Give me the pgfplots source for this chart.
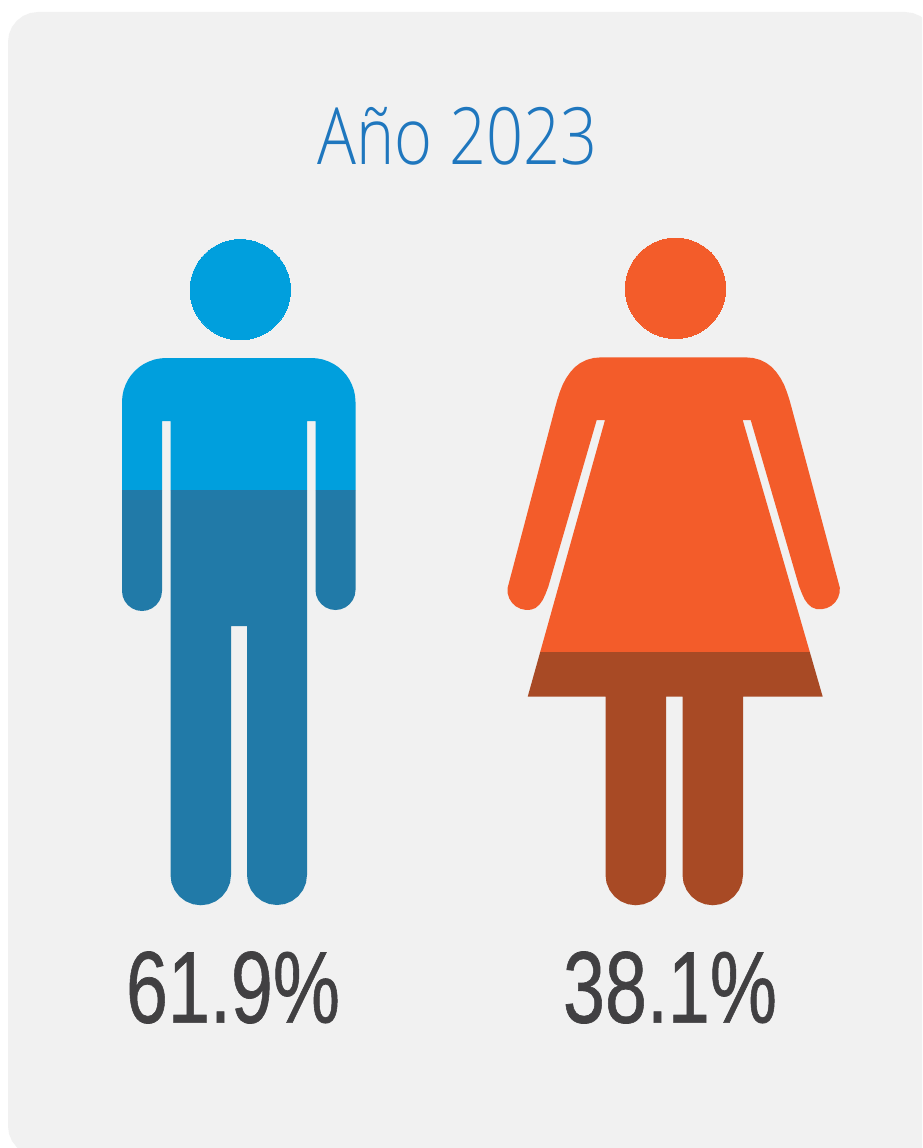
\documentclass[border=0pt]{standalone}
\usepackage{pgfplots}
\pgfplotsset{compat=1.18}
\usepackage{graphicx}
\usepackage{fontspec}
\setmainfont{Open Sans Light}
\newfontfamily\numfont[FakeBold=0.7]{Liberation Sans}
\definecolor{panel}{HTML}{F1F1F1}
\definecolor{manA}{HTML}{009FDD}
\definecolor{manB}{HTML}{217AA8}
\definecolor{womA}{HTML}{F35C2A}
\definecolor{womB}{HTML}{A84A25}
\definecolor{titlec}{HTML}{1F77BE}
\definecolor{numc}{HTML}{414042}
\begin{document}
\begin{tikzpicture}
\begin{axis}[
  scale only axis, width=922pt, height=1148pt,
  xmin=0, xmax=922, ymin=0, ymax=1148, y dir=reverse,
  hide axis, clip=true,
  every axis plot/.append style={draw=none, line width=0pt},
]
% page
\addplot[fill=white] coordinates {(0,0)(922,0)(922,1148)(0,1148)} \closedcycle;
% panel
\addplot[fill=panel] coordinates {
(8,42)(9,34.2)(12,27)(16.8,20.8)(23,16)(30.2,13)(38,12)
(905,12)(912.8,13)(920,16)(922,17.3)
(922,1148)(17.6,1148)(16.8,1147.2)(12,1141)(9,1133.8)(8,1126)} -- cycle;
% man head
\addplot[only marks, mark=*, mark size=50.2pt, mark options={fill=manA, draw=manA, line width=0pt}] coordinates {(240.3,289.7)};
% man upper
\addplot[fill=manA] coordinates {
(122,490)(122,402)(122.4,396.3)(123.5,390.6)(125.4,385.2)(127.9,380)(131.1,375.2)(134.9,370.9)(139.2,367.1)(144,363.9)(149.2,361.4)(154.6,359.5)(160.3,358.4)(166,358)
(311.5,358)(317.2,358.4)(322.9,359.5)(328.3,361.4)(333.5,363.9)(338.3,367.1)(342.6,370.9)(346.4,375.2)(349.6,380)(352.1,385.2)(354,390.6)(355.1,396.3)(355.5,402)
(355.5,490)(315.5,490)(315.5,421)(307,421)(307,490)(170.5,490)(170.5,421)(162,421)(162,490)} -- cycle;
% man arms lower
\addplot[fill=manB] coordinates {
(122,490)(122,591)(122.7,596.2)(124.7,601)(127.9,605.1)(132,608.3)(136.8,610.3)(142,611)
(147.2,610.3)(152,608.3)(156.1,605.1)(159.3,601)(161.3,596.2)(162,591)(162,490)} -- cycle;
\addplot[fill=manB] coordinates {
(315.5,490)(315.5,590)(316.2,595.2)(318.2,600)(321.4,604.1)(325.5,607.3)(330.3,609.3)(335.5,610)
(340.7,609.3)(345.5,607.3)(349.6,604.1)(352.8,600)(354.8,595.2)(355.5,590)(355.5,490)} -- cycle;
% man body lower
\addplot[fill=manB] coordinates {
(170.5,490)(170.5,875)(171.5,882.8)(174.6,890.1)(179.4,896.4)(185.6,901.2)(192.9,904.2)(200.75,905.25)
(208.6,904.2)(215.9,901.2)(222.1,896.4)(226.9,890.1)(230,882.8)(231,875)(231,626)(247,626)
(247,875)(248,882.8)(251,890)(255.8,896.2)(262,901)(269.2,904)(277,905)
(284.8,904)(292,901)(298.2,896.2)(303,890)(306,882.8)(307,875)(307,490)} -- cycle;
% woman head
\addplot[only marks, mark=*, mark size=50.2pt, mark options={fill=womA, draw=womA, line width=0pt}] coordinates {(675.5,288.3)};
% woman upper
\addplot[fill=womA] coordinates {
(540.2,652)(605,420)(596.7,420)(548.3,586.7)(545.5,594)(542.7,600)(539.5,604.5)(535.5,608)(530.9,609.7)(525.7,609.9)(520.6,608.8)(515.9,606.4)(512.1,602.9)(509.3,598.5)(507.7,593.5)(507.5,588.3)
(555,408)(557.3,399.7)(559.8,392)(562.7,384.6)(566.2,378.1)(570.3,372.2)(574.9,367.1)(580.3,363)(586.5,359.9)(593.6,358)(601.7,357.3)
(745,357.3)(753.1,358)(760.2,359.9)(766.4,363)(771.8,367.1)(776.4,372.2)(780.5,378.1)(784,384.6)(786.9,392)(789.4,399.7)(791.7,408)
(839.8,587.6)(839.6,592.8)(838,597.8)(835.2,602.2)(831.4,605.7)(826.7,608.1)(821.6,609.2)(816.4,609)(811.8,607.3)(807.8,603.8)(804.6,599.3)(801.8,593.3)(799,586)
(750.7,420)(742.7,420)(809.8,652)} -- cycle;
% woman lower
\addplot[fill=womB] coordinates {
(540.2,652)(527.7,696.7)(605.5,696.7)
(605.5,875)(606.5,882.8)(609.6,890.1)(614.4,896.4)(620.6,901.2)(627.9,904.2)(635.75,905.25)
(643.6,904.2)(650.9,901.2)(657.1,896.4)(661.9,890.1)(665,882.8)(666,875)(666,696.7)(682.5,696.7)
(682.5,875)(683.5,882.8)(686.6,890.1)(691.4,896.4)(697.6,901.2)(704.9,904.2)(712.75,905.25)
(720.6,904.2)(727.9,901.2)(734.1,896.4)(738.9,890.1)(742,882.8)(743,875)(743,696.7)(822.7,696.7)(809.8,652)} -- cycle;
% text
\node[text=titlec, inner sep=0pt] at (axis cs:457.5,136) {\fontsize{79}{79}\selectfont\scalebox{0.82}[1]{Año 2023}};
\node[text=numc, inner sep=0pt] at (axis cs:233,987.5) {\fontsize{102}{102}\numfont\selectfont\scalebox{0.74}[1]{61.9\%}};
\node[text=numc, inner sep=0pt] at (axis cs:670,987.5) {\fontsize{102}{102}\numfont\selectfont\scalebox{0.74}[1]{38.1\%}};
\end{axis}
\end{tikzpicture}
\end{document}
